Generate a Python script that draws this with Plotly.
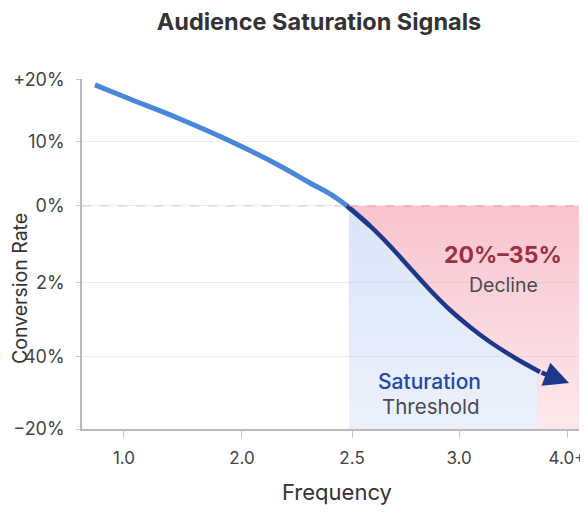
import numpy as np
import plotly.graph_objects as go

# -----------------------------
# Data (axis is positional: tick labels are not evenly valued)
# -----------------------------
X_TICK_POS = [0.0, 1.065, 2.059, 3.025, 4.0]
X_TICK_TEXT = ["1.0", "2.0", "2.5", "3.0", "4.0+"]
Y_TICK_POS = [20, 10.16, 0, -12.22, -23.97, -35.4]
Y_TICK_TEXT = ["+20%", "10%", "0%", "2%", "40%", "−20%"]

CURVE_X = [-0.262, 0.054, 0.506, 0.957, 1.409, 1.679, 1.860, 2.014, 2.221,
           2.402, 2.582, 2.763, 2.944, 3.124, 3.305, 3.531, 3.756, 4.018]
CURVE_Y = [19.21, 16.98, 13.81, 10.32, 6.35, 3.65, 1.90, 0.0, -3.17,
           -6.35, -9.84, -13.33, -16.51, -19.21, -21.59, -24.13, -26.35, -28.10]

ZONE_START = 2.032   # saturation threshold
BLUE_END = 3.729
X_RANGE = [-0.379, 4.108]
Y_RANGE = [-35.4, 20.15]

FONT = "Inter"
LIGHT_BLUE = "#4a86d9"
NAVY = "#1f3789"

# page body adds an 8px margin, so the figure is drawn 8px smaller
OFF = 8
W, H = 588 - OFF, 522 - OFF

cx = np.array(CURVE_X)
cy = np.array(CURVE_Y)
split = 7  # index where the curve crosses 0%

fig = go.Figure()

# pink decline zone (above curve + right strip)
mask = (cx > ZONE_START) & (cx < BLUE_END)
blue_end_y = float(np.interp(BLUE_END, cx, cy))
pink_x = [ZONE_START, X_RANGE[1], X_RANGE[1], BLUE_END, BLUE_END] + list(cx[mask][::-1]) + [ZONE_START]
pink_y = [0, 0, Y_RANGE[0], Y_RANGE[0], blue_end_y] + list(cy[mask][::-1]) + [0]
fig.add_trace(go.Scatter(
    x=pink_x, y=pink_y, mode="lines", fill="toself", line=dict(width=0),
    fillgradient=dict(type="vertical",
                      colorscale=[[0, "rgba(240,150,168,0.22)"], [1, "rgba(244,140,158,0.52)"]]),
    hoverinfo="skip", showlegend=False))

# blue saturation zone (below curve)
blue_x = [ZONE_START] + list(cx[mask]) + [BLUE_END, BLUE_END, ZONE_START]
blue_y = [0] + list(cy[mask]) + [blue_end_y, Y_RANGE[0], Y_RANGE[0]]
fig.add_trace(go.Scatter(
    x=blue_x, y=blue_y, mode="lines", fill="toself", line=dict(width=0),
    fillgradient=dict(type="vertical",
                      colorscale=[[0, "rgba(175,200,240,0.25)"], [1, "rgba(165,192,238,0.42)"]]),
    hoverinfo="skip", showlegend=False))

# curve: light blue part then navy part
fig.add_trace(go.Scatter(
    x=cx[:split + 2], y=cy[:split + 2], mode="lines",
    line=dict(color=LIGHT_BLUE, width=5, shape="spline"),
    hoverinfo="skip", showlegend=False))
fig.add_trace(go.Scatter(
    x=cx[split:-1], y=cy[split:-1], mode="lines",
    line=dict(color=NAVY, width=4.5, shape="spline"),
    hoverinfo="skip", showlegend=False))

fig.add_annotation(x=cx[-1], y=cy[-1], ax=cx[-2], ay=cy[-2],
                   xref="x", yref="y", axref="x", ayref="y", text="",
                   showarrow=True, arrowhead=2, arrowsize=1.1,
                   arrowwidth=4.5, arrowcolor=NAVY)

# 0% dashed line
fig.add_shape(type="line", x0=X_RANGE[0], x1=ZONE_START, y0=0, y1=0,
              line=dict(color="#d6d6da", width=1.2, dash="dash"), layer="above")
fig.add_shape(type="line", x0=ZONE_START, x1=X_RANGE[1], y0=0, y1=0,
              line=dict(color="#f2a3b0", width=1.2, dash="dash"), layer="above")

# zone labels
fig.add_annotation(x=3.425, y=-7.8, text="<b>20%–35%</b>", showarrow=False,
                   font=dict(family=FONT, size=23, color="#9a2f42"))
fig.add_annotation(x=3.425, y=-12.5, text="Decline", showarrow=False,
                   font=dict(family=FONT, size=19.5, color="#4a4a52"))
fig.add_annotation(x=2.755, y=-27.9, text="Saturation", showarrow=False,
                   font=dict(family=FONT, size=21, color="#2448a8", weight=500))
fig.add_annotation(x=2.765, y=-31.9, text="Threshold", showarrow=False,
                   font=dict(family=FONT, size=20.5, color="#4a4a55"))

# axis titles
fig.add_annotation(xref="paper", yref="paper", x=(337 - 82) / 497, y=-(492 - 429) / 350,
                   text="Frequency", showarrow=False, yanchor="middle",
                   font=dict(family=FONT, size=22, color="#333333"))
fig.add_annotation(xref="paper", yref="paper", x=-(82 - 20) / 497, y=(429 - 289) / 350,
                   text="Conversion Rate", showarrow=False, textangle=-90,
                   xanchor="center", yanchor="middle",
                   font=dict(family=FONT, size=19.5, color="#333333"))

fig.update_layout(
    width=W, height=H,
    margin=dict(l=82 - OFF, r=9, t=79 - OFF, b=93),
    paper_bgcolor="white", plot_bgcolor="white",
    title=dict(text="<b>Audience Saturation Signals</b>", xref="container",
               x=(319 - OFF) / W, y=1 - (22 - OFF) / H, xanchor="center", yanchor="middle",
               font=dict(family=FONT, size=23.5, color="#333333")),
    xaxis=dict(range=X_RANGE, tickvals=X_TICK_POS, ticktext=X_TICK_TEXT,
               showgrid=False, zeroline=False, showline=True, linecolor="#b9b9c1",
               linewidth=1.5, ticks="outside", ticklen=7, tickcolor="#c4c4ca",
               tickwidth=1.2, ticklabelstandoff=6, automargin=False,
               tickfont=dict(family=FONT, size=17, color="#444444")),
    yaxis=dict(range=Y_RANGE, tickvals=Y_TICK_POS, ticktext=Y_TICK_TEXT,
               showgrid=True, gridcolor="#ececef", gridwidth=1, zeroline=False,
               showline=True, linecolor="#b9b9c1", linewidth=1.5,
               ticks="outside", ticklen=4, tickcolor="#c4c4ca",
               ticklabelstandoff=8, automargin=False,
               tickfont=dict(family=FONT, size=18, color="#444444")),
)

fig.write_html("out.html")
